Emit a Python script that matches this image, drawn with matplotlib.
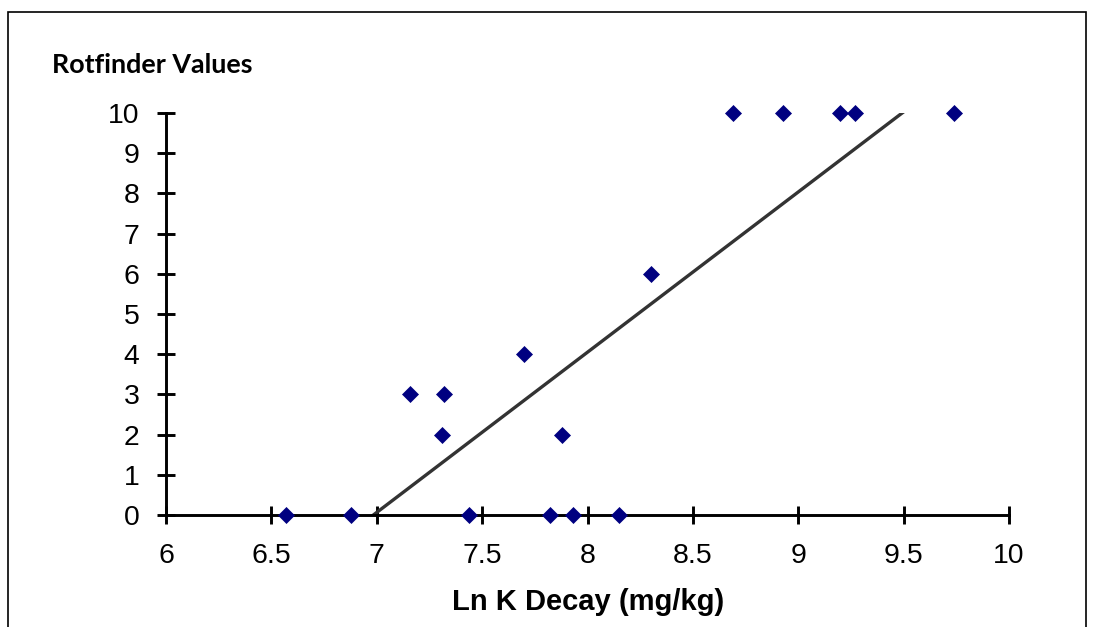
import numpy as np
import matplotlib
matplotlib.use("Agg")
import matplotlib.pyplot as plt
from matplotlib.patches import Rectangle

ln_k_decay = [6.57, 6.88, 7.44, 7.82, 7.93, 8.15, 7.16, 7.32, 7.31, 7.70, 7.88, 8.30,
              8.69, 8.93, 9.20, 9.27, 9.74]
rotfinder = [0, 0, 0, 0, 0, 0, 3, 3, 2, 4, 2, 6, 10, 10, 10, 10, 10]
x_ticks = [6, 6.5, 7, 7.5, 8, 8.5, 9, 9.5, 10]
x_tick_labels = ["6", "6.5", "7", "7.5", "8", "8.5", "9", "9.5", "10"]
y_ticks = list(range(0, 11))

fig = plt.figure(figsize=(10.96, 6.27), dpi=100)
ax = fig.add_axes([166/1096, 1-515/627, (1009-166)/1096, (515-113)/627])

# trend line (linear least squares)
slope, intercept = np.polyfit(ln_k_decay, rotfinder, 1)
xs = np.linspace(6, 10, 400)
ax.plot(xs, slope*xs + intercept, color="#333333", lw=2.4, zorder=2)

ax.plot(ln_k_decay, rotfinder, linestyle="none", marker="D", markersize=8.0,
        color="#000080", mec="#000080", mew=0.5, clip_on=False, zorder=3)

ax.set_xlim(6, 10)
ax.set_ylim(0, 10)
ax.set_xticks(x_ticks)
ax.set_xticklabels(x_tick_labels)
ax.set_yticks(y_ticks)
for s in ["top", "right"]:
    ax.spines[s].set_visible(False)
for s in ["left", "bottom"]:
    ax.spines[s].set_linewidth(2.1)
    ax.spines[s].set_color("black")
ax.tick_params(direction="inout", length=12.5, width=2.1, colors="black",
               labelsize=20.4)
ax.tick_params(axis="x", pad=14)
ax.tick_params(axis="y", pad=13)
for lab in ax.get_xticklabels() + ax.get_yticklabels():
    lab.set_fontfamily("Liberation Sans")

fig.text(588/1096, 1-610/627, "Ln K Decay (mg/kg)", fontfamily="Liberation Sans",
         fontweight="bold", fontsize=21, ha="center", va="baseline")
fig.text(52/1096, 1-72.7/627, "Rotfinder Values", fontfamily="Lato",
         fontweight="bold", fontsize=19.4, ha="left", va="baseline")

fig.patches.append(Rectangle((8/1096, -0.1), (1086-8)/1096, 1-12/627+0.1,
                             transform=fig.transFigure, fill=False,
                             edgecolor="black", lw=1.2))

fig.savefig("out.png", dpi=100)
